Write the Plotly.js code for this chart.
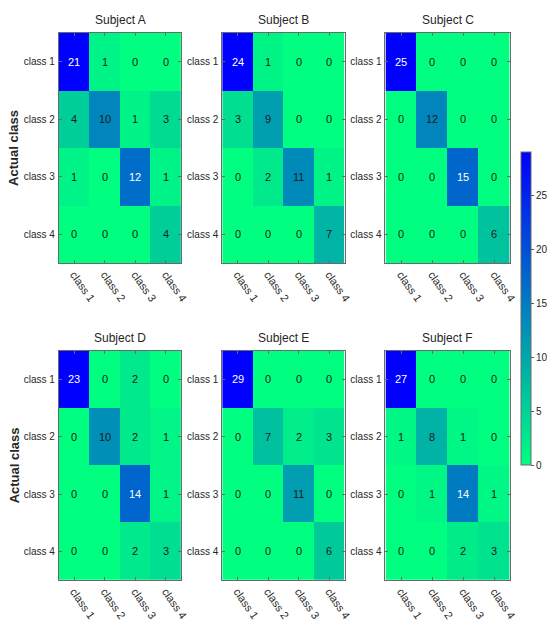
<!DOCTYPE html>
<html><head><meta charset="utf-8">
<script src="https://cdn.plot.ly/plotly-3.0.1.min.js"></script>
<style>html,body{margin:0;padding:0;background:#fff;}#chart{width:548px;height:623px;}</style>
</head><body><div id="chart"></div>
<script>
const classes = ['class 1','class 2','class 3','class 4'];
const subjectNames = ['Subject A','Subject B','Subject C','Subject D','Subject E','Subject F'];
const subjectA = [[21,1,0,0],[4,10,1,3],[1,0,12,1],[0,0,0,4]];
const subjectB = [[24,1,0,0],[3,9,0,0],[0,2,11,1],[0,0,0,7]];
const subjectC = [[25,0,0,0],[0,12,0,0],[0,0,15,0],[0,0,0,6]];
const subjectD = [[23,0,2,0],[0,10,2,1],[0,0,14,1],[0,0,2,3]];
const subjectE = [[29,0,0,0],[0,7,2,3],[0,0,11,0],[0,0,0,6]];
const subjectF = [[27,0,0,0],[1,8,1,0],[0,1,14,1],[0,0,2,3]];
const colorbarTicks = [0,5,10,15,20,25];

const mats = [subjectA,subjectB,subjectC,subjectD,subjectE,subjectF];
const FONT = '"Liberation Sans Narrow", "Arial Narrow", "Liberation Sans", Arial, sans-serif';
const xDom = [[0.1077,0.332],[0.407,0.631],[0.706,0.934]];
const yDom = [[0.578,0.947],[0.069,0.437]];
const scale = [[0,'rgb(0,255,128)'],[1,'rgb(0,0,255)']];

const traces = [];
const annotations = [];
const layout = {
  width:548, height:623, margin:{l:0,r:0,t:0,b:0},
  paper_bgcolor:'#fff', plot_bgcolor:'#fff', showlegend:false,
  font:{family:FONT, size:10, color:'#262626'}
};
mats.forEach((m,i)=>{
  const n = i+1, sfx = n===1?'':String(n);
  const col = i%3, row = Math.floor(i/3);
  const mx = Math.max(...m.flat());
  const tr = {
    type:'heatmap', z:m, x:classes, y:classes,
    xaxis:'x'+sfx, yaxis:'y'+sfx,
    colorscale:scale, zmin:0, zmax:mx,
    showscale: i===4, xgap:0, ygap:0, hoverinfo:'z'
  };
  if(i===4){
    tr.colorbar = {x:0.954, xanchor:'left', y:1-152/623, yanchor:'top',
      len:313/623, lenmode:'fraction', thickness:10, thicknessmode:'pixels',
      outlinewidth:1, outlinecolor:'#6a6a6a', ticks:'outside', ticklen:3,
      tickcolor:'#555', tickvals:colorbarTicks, tickfont:{family:FONT,size:10,color:'#262626'}, xpad:0, ypad:0};
  }
  traces.push(tr);
  const axCommon = {showgrid:false, zeroline:false, showline:true, linecolor:'#6a6a6a', linewidth:1,
    mirror:'ticks', ticks:'inside', ticklen:3, tickcolor:'#6a6a6a', type:'category',
    tickfont:{family:FONT,size:10,color:'#262626'}, fixedrange:true};
  layout['xaxis'+sfx] = Object.assign({}, axCommon, {domain:xDom[col], anchor:'y'+sfx, tickangle:55,
    tickfont:{family:FONT,size:11,color:'#262626'}});
  layout['yaxis'+sfx] = Object.assign({}, axCommon, {domain:yDom[row], anchor:'x'+sfx, autorange:'reversed', ticklabelstandoff:1});
  annotations.push({xref:'paper', yref:'paper', x:(xDom[col][0]+xDom[col][1])/2, y:yDom[row][1],
    xanchor:'center', yanchor:'bottom', yshift:4, text:subjectNames[i], showarrow:false,
    font:{family:FONT,size:12,color:'#262626'}});
  m.forEach((r,ri)=>r.forEach((v,ci)=>{
    annotations.push({xref:'x'+sfx, yref:'y'+sfx, x:classes[ci], y:classes[ri], text:String(v),
      showarrow:false, font:{family:FONT,size:11,color: v/mx>0.5?'#ffffff':'#1a1a1a'}});
  }));
});
[0,1].forEach(row=>{
  annotations.push({xref:'paper', yref:'paper', x:14/548, y:(yDom[row][0]+yDom[row][1])/2,
    xanchor:'center', yanchor:'middle', text:'<b>Actual class</b>', textangle:-90, showarrow:false,
    font:{family:'"Liberation Sans", Arial, sans-serif', size:13, color:'#262626'}});
});
layout.annotations = annotations;
Plotly.newPlot('chart', traces, layout, {displayModeBar:false, staticPlot:true});
</script></body></html>
